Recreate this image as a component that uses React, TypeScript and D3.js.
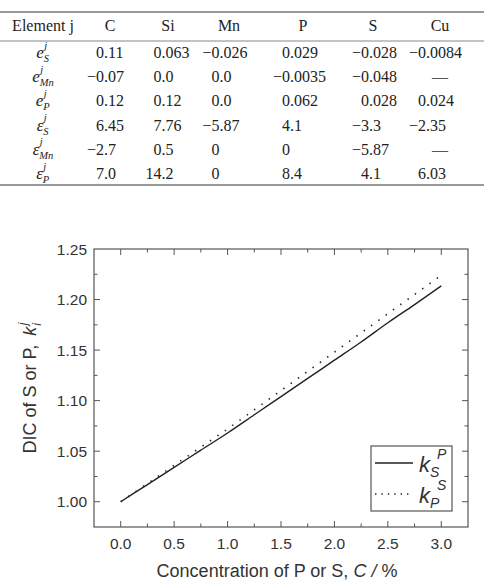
import React, { useEffect, useRef } from 'react';
import * as d3 from 'd3';

// interaction parameter table
const elements = ['C', 'Si', 'Mn', 'P', 'S', 'Cu'];
const rowSymbols = ['e', 'e', 'e', 'ε', 'ε', 'ε'];
const rowSubs = ['S', 'Mn', 'P', 'S', 'Mn', 'P'];
const eS = ['0.11', '0.063', '−0.026', '0.029', '−0.028', '−0.0084'];
const eMn = ['−0.07', '0.0', '0.0', '−0.0035', '−0.048', '—'];
const eP = ['0.12', '0.12', '0.0', '0.062', '0.028', '0.024'];
const epsS = ['6.45', '7.76', '−5.87', '4.1', '−3.3', '−2.35'];
const epsMn = ['−2.7', '0.5', '0', '0', '−5.87', '—'];
const epsP = ['7.0', '14.2', '0', '8.4', '4.1', '6.03'];
const tableRows = [eS, eMn, eP, epsS, epsMn, epsP];

// DIC curves
const concentration = [0, 0.25, 0.5, 0.75, 1.0, 1.25, 1.5, 1.75, 2.0, 2.25, 2.5, 2.75, 3.0];
const kSP = [1.0, 1.017, 1.034, 1.051, 1.068, 1.086, 1.104, 1.122, 1.140, 1.158, 1.177, 1.195, 1.2135];
const kPS = [1.0, 1.018, 1.036, 1.054, 1.072, 1.091, 1.110, 1.129, 1.148, 1.167, 1.186, 1.205, 1.224];
const xTickValues = [0, 0.5, 1.0, 1.5, 2.0, 2.5, 3.0];
const yTickValues = [1.0, 1.05, 1.1, 1.15, 1.2, 1.25];

const W = 484;
const H = 586;
const SERIF = "'Liberation Serif', 'Times New Roman', serif";
const SANS = "'Liberation Sans', Arial, sans-serif";
const INK = '#333';

const colCenters = [110, 168, 229, 303, 373, 440];
const decimalX = [104, 161.5, 219.5, 290, 369, 426];

const App = () => {
  const ref = useRef<SVGSVGElement>(null);

  useEffect(() => {
    const svg = d3.select(ref.current);
    svg.selectAll('*').remove();

    // ---- table ----
    const table = svg.append('g').style('font-family', SERIF).style('font-size', '16px').attr('fill', '#222');
    table.append('line').attr('x1', 0).attr('x2', W).attr('y1', 12).attr('y2', 12)
      .attr('stroke', '#777').attr('stroke-width', 1.6);
    table.append('line').attr('x1', 0).attr('x2', W).attr('y1', 41).attr('y2', 41)
      .attr('stroke', '#888').attr('stroke-width', 1);
    table.append('line').attr('x1', 0).attr('x2', W).attr('y1', 185).attr('y2', 185)
      .attr('stroke', '#777').attr('stroke-width', 1.6);

    table.append('text').attr('x', 43).attr('y', 31).attr('text-anchor', 'middle').text('Element j');
    table.selectAll('text.head').data(elements).enter().append('text')
      .attr('class', 'head')
      .attr('x', (_, i) => colCenters[i]).attr('y', 31)
      .attr('text-anchor', 'middle')
      .text(d => d);

    const rowY = d3.scaleLinear().domain([0, tableRows.length - 1]).range([58, 179]);

    tableRows.forEach((row, r) => {
      const y = rowY(r);
      // row label: symbol with superscript j and element subscript
      const lab = table.append('g');
      lab.append('text').attr('x', 0).attr('y', y).attr('text-anchor', 'end')
        .style('font-style', 'italic').style('font-size', '17px').text(rowSymbols[r]);
      lab.append('text').attr('x', 0.5).attr('y', y - 9.5)
        .style('font-style', 'italic').style('font-size', '10.5px').text('j');
      lab.append('text').attr('x', 0).attr('y', y + 4)
        .style('font-style', 'italic').style('font-size', '10.5px').text(rowSubs[r]);
      const bb = (lab.node() as SVGGElement).getBBox();
      lab.attr('transform', `translate(${43 - (bb.x + bb.width / 2)},0)`);

      // values aligned on the decimal point
      row.forEach((v, c) => {
        if (v === '—') {
          table.append('text').attr('x', colCenters[c]).attr('y', y).attr('text-anchor', 'middle')
            .attr('fill', '#555').text(v);
          return;
        }
        const dot = v.indexOf('.');
        const intPart = dot < 0 ? v : v.slice(0, dot);
        const rest = dot < 0 ? '' : v.slice(dot);
        table.append('text').attr('x', decimalX[c]).attr('y', y).attr('text-anchor', 'end').text(intPart);
        if (rest) table.append('text').attr('x', decimalX[c]).attr('y', y).attr('text-anchor', 'start').text(rest);
      });
    });

    // ---- chart ----
    const x = d3.scaleLinear().domain([-0.25, 3.25]).range([94, 468]);
    const y = d3.scaleLinear().domain([0.975, 1.25]).range([527, 249]);
    const [x0, x1] = x.range();
    const [y0, y1] = y.range();

    const chart = svg.append('g').style('font-family', SANS).attr('fill', INK);

    chart.append('rect').attr('x', x0).attr('y', y1).attr('width', x1 - x0).attr('height', y0 - y1)
      .attr('fill', 'none').attr('stroke', '#555').attr('stroke-width', 1.2);

    const xMinor = d3.range(0, 13).map(i => i * 0.25);
    const yMinor = d3.range(1, 11).map(i => 0.975 + i * 0.025);
    const isMajor = (v: number, step: number) => Math.abs(v / step - Math.round(v / step)) < 1e-6;

    const ticks = chart.append('g').attr('stroke', '#555').attr('stroke-width', 1);
    xMinor.forEach(v => {
      const len = isMajor(v, 0.5) ? 6 : 3.5;
      ticks.append('line').attr('x1', x(v)).attr('x2', x(v)).attr('y1', y0).attr('y2', y0 - len);
      ticks.append('line').attr('x1', x(v)).attr('x2', x(v)).attr('y1', y1).attr('y2', y1 + len);
    });
    yMinor.forEach(v => {
      const len = isMajor(v, 0.05) ? 6 : 3.5;
      ticks.append('line').attr('x1', x0).attr('x2', x0 + len).attr('y1', y(v)).attr('y2', y(v));
      ticks.append('line').attr('x1', x1).attr('x2', x1 - len).attr('y1', y(v)).attr('y2', y(v));
    });

    chart.selectAll('text.xt').data(xTickValues).enter().append('text')
      .attr('class', 'xt')
      .attr('x', d => x(d)).attr('y', 549)
      .attr('text-anchor', 'middle').style('font-size', '15.5px')
      .text(d => d3.format('.1f')(d));
    chart.selectAll('text.yt').data(yTickValues).enter().append('text')
      .attr('class', 'yt')
      .attr('x', 87).attr('y', d => y(d) + 5.5)
      .attr('text-anchor', 'end').style('font-size', '15.5px')
      .text(d => d3.format('.2f')(d));

    // axis titles
    const xt = chart.append('text').attr('x', (x0 + x1) / 2 - 4).attr('y', 577)
      .attr('text-anchor', 'middle').style('font-size', '18px');
    xt.append('tspan').text('Concentration of P or S, ');
    xt.append('tspan').style('font-style', 'italic').text('C / ');
    xt.append('tspan').text('%');

    const yt = chart.append('text')
      .attr('transform', `translate(36,${(y0 + y1) / 2}) rotate(-90)`)
      .attr('text-anchor', 'middle').style('font-size', '18px');
    yt.append('tspan').text('DIC of S or P,');
    yt.append('tspan').style('font-style', 'italic').attr('dx', 9).text('k');
    yt.append('tspan').style('font-style', 'italic').style('font-size', '12px').attr('dx', 1).attr('dy', 5).text('i');
    yt.append('tspan').style('font-style', 'italic').style('font-size', '12px').attr('dx', -2).attr('dy', -14).text('j');

    const pts = (vals: number[]) => concentration.map((c, i) => [c, vals[i]] as [number, number]);
    const line = d3.line<[number, number]>().x(d => x(d[0])).y(d => y(d[1])).curve(d3.curveMonotoneX);

    chart.append('path').attr('d', line(pts(kSP))).attr('fill', 'none')
      .attr('stroke', '#222').attr('stroke-width', 1.4);
    chart.append('path').attr('d', line(pts(kPS))).attr('fill', 'none')
      .attr('stroke', '#222').attr('stroke-width', 1.6)
      .attr('stroke-dasharray', '1.4 7.6');

    // legend
    const lg = chart.append('g');
    lg.append('rect').attr('x', 371).attr('y', 446).attr('width', 81).attr('height', 65)
      .attr('fill', '#fff').attr('stroke', '#555').attr('stroke-width', 1.2);
    const entries = [
      { dash: null, sub: 'S', sup: 'P', ly: 463 },
      { dash: '1.4 5', sub: 'P', sup: 'S', ly: 494 },
    ];
    entries.forEach(e => {
      const l = lg.append('line').attr('x1', 375).attr('x2', 413).attr('y1', e.ly).attr('y2', e.ly)
        .attr('stroke', '#222').attr('stroke-width', e.dash ? 1.6 : 1.4);
      if (e.dash) l.attr('stroke-dasharray', e.dash);
      lg.append('text').attr('x', 419).attr('y', e.ly + 8.5)
        .style('font-size', '22px').style('font-style', 'italic').text('k');
      lg.append('text').attr('x', 430).attr('y', e.ly + 14)
        .style('font-size', '14px').style('font-style', 'italic').text(e.sub);
      lg.append('text').attr('x', 437).attr('y', e.ly - 4)
        .style('font-size', '14px').style('font-style', 'italic').text(e.sup);
    });
  }, []);

  return (
    <svg
      ref={ref}
      width={W}
      height={H}
      style={{ position: 'absolute', left: 0, top: 0, background: '#fff' }}
    />
  );
};

export default App;
